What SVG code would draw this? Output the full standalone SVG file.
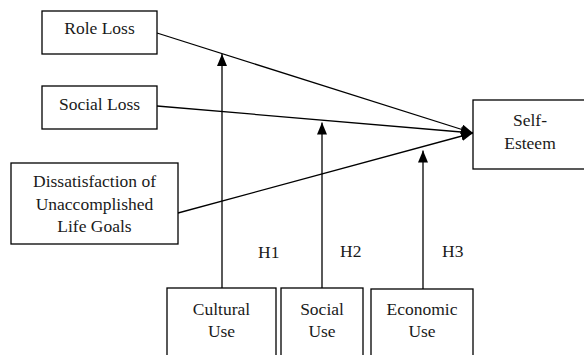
<svg xmlns="http://www.w3.org/2000/svg" width="584" height="355" viewBox="0 0 584 355">
<defs>
<style>
.box{fill:#fff;stroke:#000;stroke-width:1.3}
.ln{stroke:#000;stroke-width:1.3;fill:none}
</style>
<marker id="ah" viewBox="0 0 12 10" refX="12" refY="5" markerWidth="12" markerHeight="10" markerUnits="userSpaceOnUse" orient="auto">
<path d="M0,0 L12,5 L0,10 Z" fill="#000"/>
</marker>
</defs>
<rect width="584" height="355" fill="#fff"/>
<g id="connectors">
<line class="ln" x1="157" y1="33" x2="473" y2="133" marker-end="url(#ah)"/>
<line class="ln" x1="157" y1="106" x2="473" y2="133" marker-end="url(#ah)"/>
<line class="ln" x1="178" y1="213" x2="473" y2="133" marker-end="url(#ah)"/>
<line class="ln" x1="222" y1="288" x2="222" y2="54" marker-end="url(#ah)"/>
<line class="ln" x1="322" y1="288" x2="322" y2="122.5" marker-end="url(#ah)"/>
<line class="ln" x1="423" y1="289" x2="423" y2="150.5" marker-end="url(#ah)"/>
</g>
<g font-family="Liberation Serif, Times New Roman, serif" font-size="17.5" fill="#1a1a1a">
<g id="role-loss">
<rect class="box" x="42" y="11" width="115" height="43"/>
<text x="99.5" y="34" text-anchor="middle">Role Loss</text>
</g>
<g id="social-loss">
<rect class="box" x="42" y="86" width="115" height="43"/>
<text x="99.5" y="110" text-anchor="middle">Social Loss</text>
</g>
<g id="dissatisfaction">
<rect class="box" x="11" y="163" width="167" height="81"/>
<text x="94.5" y="187" text-anchor="middle">Dissatisfaction of</text>
<text x="94.5" y="210" text-anchor="middle">Unaccomplished</text>
<text x="94.5" y="232" text-anchor="middle">Life Goals</text>
</g>
<g id="self-esteem">
<rect class="box" x="473" y="100" width="113" height="69"/>
<text x="530" y="126" text-anchor="middle">Self-</text>
<text x="530" y="149" text-anchor="middle">Esteem</text>
</g>
<g id="cultural-use">
<rect class="box" x="167" y="288" width="109" height="80"/>
<text x="221.5" y="315" text-anchor="middle">Cultural</text>
<text x="221.5" y="337" text-anchor="middle">Use</text>
</g>
<g id="social-use">
<rect class="box" x="281" y="288" width="82" height="80"/>
<text x="322" y="315" text-anchor="middle">Social</text>
<text x="322" y="337" text-anchor="middle">Use</text>
</g>
<g id="economic-use">
<rect class="box" x="371" y="289" width="102" height="80"/>
<text x="422" y="315" text-anchor="middle">Economic</text>
<text x="422" y="337" text-anchor="middle">Use</text>
</g>
<g id="hypotheses">
<text x="258" y="258">H1</text>
<text x="340" y="257">H2</text>
<text x="442" y="257">H3</text>
</g>
</g>
</svg>
